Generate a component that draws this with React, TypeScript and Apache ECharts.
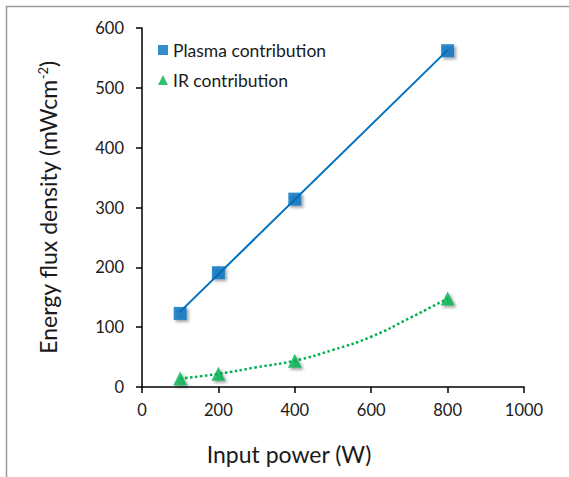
import React, { useEffect, useRef } from "react";
import * as echarts from "echarts";

const inputPower = [100, 200, 400, 800];
const plasmaValues = [123, 191, 314, 562];
const irValues = [14, 22, 44, 148];
const plasmaTrendX = [100, 800];
const plasmaTrendY = [126, 563];
const irTrendX = [100, 200, 300, 400, 500, 600, 700, 800];
const irTrendY = [14, 22, 33, 44, 62, 84, 115, 148];
const xTicks = [0, 200, 400, 600, 800, 1000];
const yTicks = [0, 100, 200, 300, 400, 500, 600];

const BLUE = "#0070C0";
const GREEN = "#00B050";
const FONT = "Lato";
const TEXT = "#1a1a1a";

export default function App() {
  const ref = useRef<HTMLDivElement>(null);
  useEffect(() => {
    if (!ref.current) return;
    const chart = echarts.init(ref.current, null, { renderer: "svg" });
    const shadow = {
      shadowBlur: 3,
      shadowOffsetX: 2,
      shadowOffsetY: 2,
      shadowColor: "rgba(0,0,0,0.45)",
    };
    chart.setOption({
      animation: false,
      backgroundColor: "#ffffff",
      textStyle: { fontFamily: FONT },
      grid: { left: 142, right: 45, top: 28, bottom: 90 },
      legend: {
        orient: "vertical",
        left: 153,
        top: 36,
        itemWidth: 10,
        itemHeight: 10,
        itemGap: 12,
        textStyle: { fontSize: 17.5, color: TEXT, fontFamily: FONT, lineHeight: 18 },
        data: [
          { name: "Plasma contribution", icon: "rect" },
          { name: "IR contribution", icon: "triangle" },
        ],
      },
      xAxis: {
        type: "value",
        min: xTicks[0],
        max: xTicks[xTicks.length - 1],
        interval: xTicks[1] - xTicks[0],
        splitLine: { show: false },
        axisLine: { lineStyle: { color: "#000", width: 1.5 } },
        axisTick: { show: true, length: 6, lineStyle: { color: "#000", width: 1.5 } },
        axisLabel: {
          fontSize: 16.5,
          color: TEXT,
          margin: 14,
          fontFamily: FONT,
          formatter: (v: number) => String(v),
        },
        name: "Input power (W)",
        nameLocation: "middle",
        nameGap: 55,
        nameTextStyle: { fontSize: 23, color: TEXT, fontFamily: FONT, padding: [0, 88, 0, 0] },
      },
      yAxis: {
        type: "value",
        min: yTicks[0],
        max: yTicks[yTicks.length - 1],
        interval: yTicks[1] - yTicks[0],
        splitLine: { show: false },
        axisLine: { show: true, lineStyle: { color: "#000", width: 1.5 } },
        axisTick: { show: true, length: 6, lineStyle: { color: "#000", width: 1.5 } },
        axisLabel: {
          fontSize: 16.5,
          color: TEXT,
          margin: 18,
          fontFamily: FONT,
          formatter: (v: number) => String(v),
        },
        name: "{a|Energy flux density (mWcm}{s|-2}{a|)}",
        nameLocation: "middle",
        nameRotate: 90,
        nameGap: 82,
        nameTextStyle: {
          rich: {
            a: { fontSize: 23, color: TEXT, fontFamily: FONT },
            s: { fontSize: 13, color: TEXT, fontFamily: FONT, padding: [0, 0, 11, 0] },
          },
        },
      },
      series: [
        {
          name: "Plasma trend",
          type: "line",
          data: plasmaTrendX.map((x, i) => [x, plasmaTrendY[i]]),
          symbol: "none",
          lineStyle: { color: BLUE, width: 2 },
          z: 1,
          silent: true,
        },
        {
          name: "IR trend",
          type: "line",
          smooth: true,
          data: irTrendX.map((x, i) => [x, irTrendY[i]]),
          symbol: "none",
          lineStyle: { color: GREEN, width: 2.5, type: [2.5, 2.5] },
          z: 1,
          silent: true,
        },
        {
          name: "Plasma contribution",
          type: "scatter",
          data: inputPower.map((x, i) => [x, plasmaValues[i]]),
          symbol: "rect",
          symbolSize: 13,
          itemStyle: { color: BLUE, ...shadow },
          z: 3,
        },
        {
          name: "IR contribution",
          type: "scatter",
          data: inputPower.map((x, i) => [x, irValues[i]]),
          symbol: "triangle",
          symbolSize: 14,
          itemStyle: { color: GREEN, ...shadow },
          z: 3,
        },
      ],
      graphic: [
        {
          type: "line",
          shape: { x1: 6, y1: 6.5, x2: 569, y2: 6.5 },
          style: { stroke: "#9a9a9a", lineWidth: 1.5 },
        },
        {
          type: "line",
          shape: { x1: 6.5, y1: 6, x2: 6.5, y2: 477 },
          style: { stroke: "#9a9a9a", lineWidth: 1.5 },
        },
      ],
    });
    return () => chart.dispose();
  }, []);
  return (
    <div
      ref={ref}
      style={{ position: "fixed", left: 0, top: 0, width: 569, height: 477 }}
    />
  );
}
